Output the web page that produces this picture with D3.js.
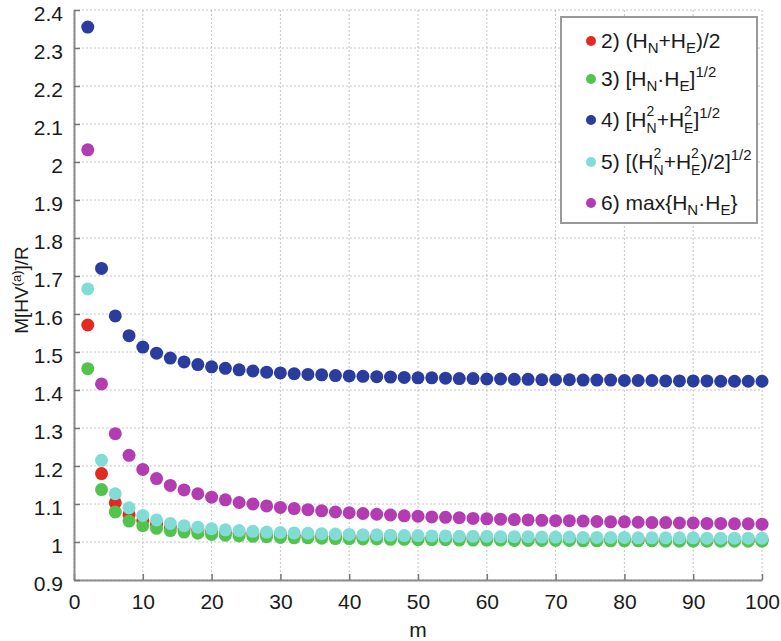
<!DOCTYPE html>
<html>
<head>
	<title>M[HV]/R vs m</title>
	<script src="https://d3js.org/d3.v7.min.js"></script>
	<style>
		body { margin: 0; background: #fff; }
		text { font-family: "Liberation Sans", Arial, sans-serif; fill: #1a1a1a; }
	</style>
</head>
<body>
<div id="chart"></div>
<script type="text/javascript">

// m values (even numbers only)
var mValues = [2,4,6,8,10,12,14,16,18,20,22,24,26,28,30,32,34,36,38,40,
	42,44,46,48,50,52,54,56,58,60,62,64,66,68,70,72,74,76,78,80,
	82,84,86,88,90,92,94,96,98,100];

// 2) (HN+HE)/2
var seriesMean = [1.571,1.180,1.103,1.072,1.056,1.047,1.040,1.035,1.031,1.028,
	1.025,1.023,1.021,1.020,1.018,1.017,1.016,1.015,1.015,1.014,
	1.013,1.013,1.012,1.012,1.011,1.011,1.010,1.010,1.010,1.009,
	1.009,1.009,1.008,1.008,1.008,1.008,1.007,1.007,1.007,1.007,
	1.007,1.006,1.006,1.006,1.006,1.006,1.006,1.005,1.005,1.005];

// 3) [HN.HE]^1/2
var seriesGeo = [1.456,1.138,1.079,1.055,1.043,1.036,1.030,1.026,1.023,1.020,
	1.018,1.016,1.015,1.014,1.012,1.011,1.011,1.010,1.009,1.009,
	1.008,1.008,1.007,1.007,1.006,1.006,1.006,1.005,1.005,1.005,
	1.005,1.004,1.004,1.004,1.004,1.004,1.003,1.003,1.003,1.003,
	1.003,1.003,1.002,1.002,1.002,1.002,1.002,1.002,1.002,1.002];

// 4) [HN^2+HE^2]^1/2
var seriesVec = [2.355,1.720,1.595,1.543,1.513,1.497,1.484,1.474,1.467,1.461,
	1.457,1.453,1.450,1.447,1.445,1.443,1.441,1.440,1.438,1.437,
	1.436,1.435,1.434,1.433,1.432,1.432,1.431,1.430,1.430,1.429,
	1.429,1.428,1.428,1.427,1.427,1.427,1.426,1.426,1.426,1.425,
	1.425,1.425,1.424,1.424,1.424,1.424,1.423,1.423,1.423,1.423];

// 5) [(HN^2+HE^2)/2]^1/2
var seriesRms = [1.666,1.215,1.127,1.090,1.070,1.058,1.049,1.043,1.039,1.035,
	1.032,1.030,1.028,1.026,1.025,1.024,1.023,1.022,1.021,1.020,
	1.019,1.019,1.018,1.017,1.017,1.016,1.016,1.015,1.015,1.015,
	1.014,1.014,1.014,1.013,1.013,1.013,1.012,1.012,1.012,1.012,
	1.011,1.011,1.011,1.011,1.011,1.010,1.010,1.010,1.010,1.010];

// 6) max{HN.HE}
var seriesMax = [2.032,1.416,1.285,1.228,1.191,1.167,1.149,1.137,1.127,1.118,
	1.111,1.104,1.100,1.095,1.091,1.088,1.085,1.082,1.079,1.077,
	1.075,1.073,1.071,1.069,1.068,1.066,1.065,1.064,1.062,1.061,
	1.060,1.059,1.058,1.057,1.056,1.056,1.055,1.054,1.053,1.053,
	1.052,1.051,1.051,1.050,1.050,1.049,1.049,1.048,1.048,1.047];

var xTicks = [0,10,20,30,40,50,60,70,80,90,100];
var yTicks = [0.9,1,1.1,1.2,1.3,1.4,1.5,1.6,1.7,1.8,1.9,2,2.1,2.2,2.3,2.4];

var colors = ["#e42a20", "#52c44e", "#2a3c9e", "#82dcd6", "#b43cb2"];

// legend labels: pieces of [text, kind, extra]
var legendLabels = [
	[["2) (H"], ["N","sub"], ["+H"], ["E","sub"], [")/2"]],
	[["3) [H"], ["N","sub"], ["\u00b7H"], ["E","sub"], ["]"], ["1/2","sup"]],
	[["4) [H"], ["N","subsup","2"], ["+H"], ["E","subsup","2"], ["]"], ["1/2","sup"]],
	[["5) [(H"], ["N","subsup","2"], ["+H"], ["E","subsup","2"], [")/2]"], ["1/2","sup"]],
	[["6) max{H"], ["N","sub"], ["\u00b7H"], ["E","sub"], ["}"]]
];

var series = [seriesMean, seriesGeo, seriesVec, seriesRms, seriesMax];

var width = 781, height = 641;

var svg = d3.select("#chart").append("svg")
	.attr("width", width)
	.attr("height", height);

var x = d3.scaleLinear().domain([0, 100]).range([74, 762]);
var y = d3.scaleLinear().domain([0.9, 2.4]).range([580, 10]);

/* grid */
var grid = svg.append("g");
grid.selectAll(".gy").data(yTicks).enter().append("line")
	.attr("x1", x(0)).attr("x2", x(100))
	.attr("y1", function(d) { return y(d); })
	.attr("y2", function(d) { return y(d); })
	.style("stroke", "#c4c4c4")
	.style("stroke-dasharray", "2,2");
grid.selectAll(".gx").data(xTicks).enter().append("line")
	.attr("y1", y(0.9)).attr("y2", y(2.4))
	.attr("x1", function(d) { return x(d); })
	.attr("x2", function(d) { return x(d); })
	.style("stroke", "#c4c4c4")
	.style("stroke-dasharray", "2,2");

/* axes */
var xAxis = d3.axisBottom(x).tickValues(xTicks).tickSizeInner(-6).tickSizeOuter(0).tickPadding(14);
var yAxis = d3.axisLeft(y).tickValues(yTicks).tickSizeInner(-6).tickSizeOuter(0).tickPadding(11)
	.tickFormat(function(d) { return String(+d.toFixed(1)); });

var gx = svg.append("g").attr("transform", "translate(0," + y(0.9) + ")").call(xAxis);
var gy = svg.append("g").attr("transform", "translate(" + x(0) + ",0)").call(yAxis);

[gx, gy].forEach(function(g) {
	g.select(".domain").style("stroke", "#8c8c8c").style("stroke-width", 2);
	g.selectAll(".tick line").style("stroke", "#777").style("stroke-width", 1.5);
	g.selectAll("text").style("font-size", "21px").style("fill", "#1a1a1a")
		.style("font-family", "Liberation Sans, Arial, sans-serif");
});
// labels on the y axis sit a little below their tick
gy.selectAll(".tick text").attr("dy", "0.52em");

/* points */
series.forEach(function(s, i) {
	svg.append("g").selectAll("circle")
		.data(s)
		.enter().append("circle")
		.attr("cx", function(d, j) { return x(mValues[j]); })
		.attr("cy", function(d) { return y(d); })
		.attr("r", 6.5)
		.style("fill", colors[i]);
});

/* axis labels */
svg.append("text")
	.attr("x", x(50)).attr("y", 637)
	.attr("text-anchor", "middle")
	.style("font-size", "21px")
	.text("m");

var yl = svg.append("text")
	.attr("transform", "translate(28,290) rotate(-90)")
	.attr("text-anchor", "middle")
	.style("font-size", "19px");
yl.append("tspan").text("M[HV");
yl.append("tspan").attr("dy", -7).style("font-size", "13px").text("(a)");
yl.append("tspan").attr("dy", 7).text("]/R");

/* legend */
var legend = svg.append("g");
legend.append("rect")
	.attr("x", 561).attr("y", 17)
	.attr("width", 196).attr("height", 206)
	.style("fill", "#fff")
	.style("stroke", "#999")
	.style("stroke-width", 2);

var rowY = [41, 79, 120, 162, 203];

function addPiece(x0, yy, txt, size, dy) {
	var t = legend.append("text")
		.attr("x", x0).attr("y", yy + dy)
		.style("font-size", size + "px")
		.text(txt);
	return t.node().getComputedTextLength();
}

legendLabels.forEach(function(parts, i) {
	var yy = rowY[i] + 7;
	legend.append("circle")
		.attr("cx", 591).attr("cy", rowY[i])
		.attr("r", 5)
		.style("fill", colors[i]);
	var cx = 601;
	parts.forEach(function(p) {
		if (p[1] === "sub") {
			cx += addPiece(cx, yy, p[0], 15, 5);
		} else if (p[1] === "sup") {
			cx += addPiece(cx, yy, p[0], 15, -9);
		} else if (p[1] === "subsup") {
			// stacked index: small 2 above, letter below
			var w1 = addPiece(cx, yy, p[0], 14, 6);
			var w2 = addPiece(cx, yy, p[2], 14, -11);
			cx += Math.max(w1, w2);
		} else {
			cx += addPiece(cx, yy, p[0], 21, 0);
		}
	});
});

</script>
</body>
</html>
